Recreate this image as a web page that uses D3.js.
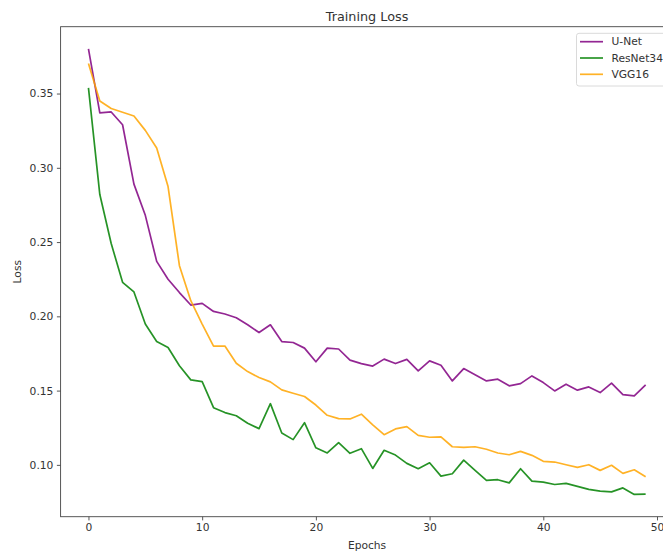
<!DOCTYPE html>
<html>
<head>
<meta charset="utf-8">
<script src="https://cdn.jsdelivr.net/npm/d3@7"></script>
<style>
  body { margin: 0; background: #fff; }
  svg { font-family: "DejaVu Sans", sans-serif; }
</style>
</head>
<body>
<svg id="canvas" width="663" height="553"></svg>
<script>
let epochs = d3.range(0, 50);

let unetLoss = [0.380, 0.337, 0.3376, 0.329, 0.289, 0.268, 0.237, 0.225, 0.216, 0.2076,
  0.2087, 0.2033, 0.2016, 0.199, 0.1943, 0.1891, 0.1943, 0.183, 0.1824, 0.1786,
  0.1694, 0.1786, 0.178, 0.1705, 0.1682, 0.1665, 0.1712, 0.1682, 0.171, 0.1633,
  0.170, 0.1671, 0.1565, 0.1648, 0.1606, 0.1565, 0.1577, 0.1532, 0.1547, 0.1599,
  0.1554, 0.1498, 0.1543, 0.1503, 0.1525, 0.1487, 0.155, 0.1473, 0.1464, 0.1538];

let resnetLoss = [0.3538, 0.282, 0.249, 0.2229, 0.2164, 0.1948, 0.183, 0.179, 0.1667, 0.1572,
  0.156, 0.1385, 0.1352, 0.1331, 0.128, 0.1244, 0.1412, 0.1215, 0.117, 0.1284,
  0.1115, 0.108, 0.1149, 0.1078, 0.1109, 0.0976, 0.1098, 0.1066, 0.101, 0.0974,
  0.1014, 0.0924, 0.094, 0.1032, 0.0963, 0.0896, 0.090, 0.0879, 0.0974, 0.0891,
  0.0884, 0.0868, 0.0875, 0.0855, 0.0835, 0.0823, 0.0818, 0.0845, 0.0801, 0.0803];

let vggLoss = [0.3702, 0.345, 0.3399, 0.3374, 0.3349, 0.3252, 0.3133, 0.2874, 0.2341, 0.2105,
  0.1948, 0.180, 0.180, 0.1684, 0.1628, 0.1588, 0.1559, 0.1505, 0.1482, 0.146,
  0.1403, 0.1334, 0.1311, 0.1309, 0.1341, 0.1269, 0.1203, 0.1242, 0.1257, 0.1199,
  0.1186, 0.1188, 0.1122, 0.1118, 0.1122, 0.1105, 0.108, 0.1068, 0.1091, 0.1064,
  0.1024, 0.1019, 0.1001, 0.0983, 0.1001, 0.0963, 0.0997, 0.0943, 0.0967, 0.092];

let seriesNames = ["U-Net", "ResNet34", "VGG16"];
let seriesColors = ["#800080", "#008000", "#ffa500"];
let xTicks = [0, 10, 20, 30, 40, 50];
let yTicks = [0.10, 0.15, 0.20, 0.25, 0.30, 0.35];

let allSeries = [unetLoss, resnetLoss, vggLoss];

let canvas = d3.select("#canvas");

// axes box (right side runs past the window, like the original crop)
let boxLeft = 60.6, boxRight = 673.5, boxTop = 26.7, boxBottom = 516.7;

let xPad = (d3.max(epochs) - d3.min(epochs)) * 0.05;
let xScale = d3.scaleLinear()
  .domain([d3.min(epochs) - xPad, d3.max(epochs) + xPad])
  .range([boxLeft, boxRight]);

let allValues = allSeries.flat();
let yMin = d3.min(allValues), yMax = d3.max(allValues);
let yPad = (yMax - yMin) * 0.05;
let yScale = d3.scaleLinear()
  .domain([yMin - yPad, yMax + yPad])
  .range([boxBottom, boxTop]);

let axisColor = "#444";
let textColor = "#333";

let xAxis = d3.axisBottom(xScale).tickValues(xTicks).tickSize(3.7).tickPadding(3.5)
  .tickFormat(d3.format("d"));
let yAxis = d3.axisLeft(yScale).tickValues(yTicks).tickSize(3.7).tickPadding(3.5)
  .tickFormat(d3.format(".2f"));

let gx = canvas.append("g")
  .attr("transform", "translate(0," + boxBottom + ")")
  .call(xAxis);
let gy = canvas.append("g")
  .attr("transform", "translate(" + boxLeft + ",0)")
  .call(yAxis);

[gx, gy].forEach((g) => {
  g.select(".domain").remove();
  g.selectAll(".tick line").attr("stroke", axisColor).attr("stroke-width", 0.9);
  g.selectAll(".tick text")
    .attr("fill", textColor)
    .style("font-size", "10.7px")
    .style("font-family", "DejaVu Sans, sans-serif");
});

// frame
canvas.append("rect")
  .attr("x", boxLeft)
  .attr("y", boxTop)
  .attr("width", boxRight - boxLeft)
  .attr("height", boxBottom - boxTop)
  .attr("fill", "none")
  .attr("stroke", axisColor)
  .attr("stroke-width", 0.9);

let line = d3.line()
  .x((d, i) => xScale(epochs[i]))
  .y((d) => yScale(d));

canvas.append("g")
  .selectAll("path")
  .data(allSeries)
  .enter()
  .append("path")
  .attr("d", (s) => line(s))
  .attr("fill", "none")
  .attr("stroke", (s, i) => seriesColors[i])
  .attr("stroke-width", 1.7)
  .attr("stroke-opacity", 0.85)
  .attr("stroke-linejoin", "round");

// title and labels
canvas.append("text")
  .text("Training Loss")
  .attr("x", (boxLeft + boxRight) / 2)
  .attr("y", 20.5)
  .attr("text-anchor", "middle")
  .attr("fill", textColor)
  .style("font-size", "12.8px");

canvas.append("text")
  .text("Epochs")
  .attr("x", (boxLeft + boxRight) / 2)
  .attr("y", 549)
  .attr("text-anchor", "middle")
  .attr("fill", textColor)
  .style("font-size", "10.7px");

canvas.append("text")
  .text("Loss")
  .attr("transform", "translate(20.5," + ((boxTop + boxBottom) / 2) + ") rotate(-90)")
  .attr("text-anchor", "middle")
  .attr("fill", textColor)
  .style("font-size", "10.7px");

// legend
let legend = canvas.append("g");
legend.append("rect")
  .attr("x", 576.5)
  .attr("y", 33.3)
  .attr("width", 92)
  .attr("height", 52.7)
  .attr("rx", 2.5)
  .attr("fill", "#fff")
  .attr("fill-opacity", 0.8)
  .attr("stroke", "#d6d6d6")
  .attr("stroke-width", 0.9);

let item = legend.selectAll(".item")
  .data(seriesNames)
  .enter()
  .append("g")
  .attr("transform", (d, i) => "translate(0," + (41.7 + i * 16.3) + ")");

item.append("line")
  .attr("x1", 580)
  .attr("x2", 603)
  .attr("stroke", (d, i) => seriesColors[i])
  .attr("stroke-width", 1.7)
  .attr("stroke-opacity", 0.85);

item.append("text")
  .text((d) => d)
  .attr("x", 611.5)
  .attr("dy", "0.35em")
  .attr("fill", textColor)
  .style("font-size", "10.7px");
</script>
</body>
</html>
